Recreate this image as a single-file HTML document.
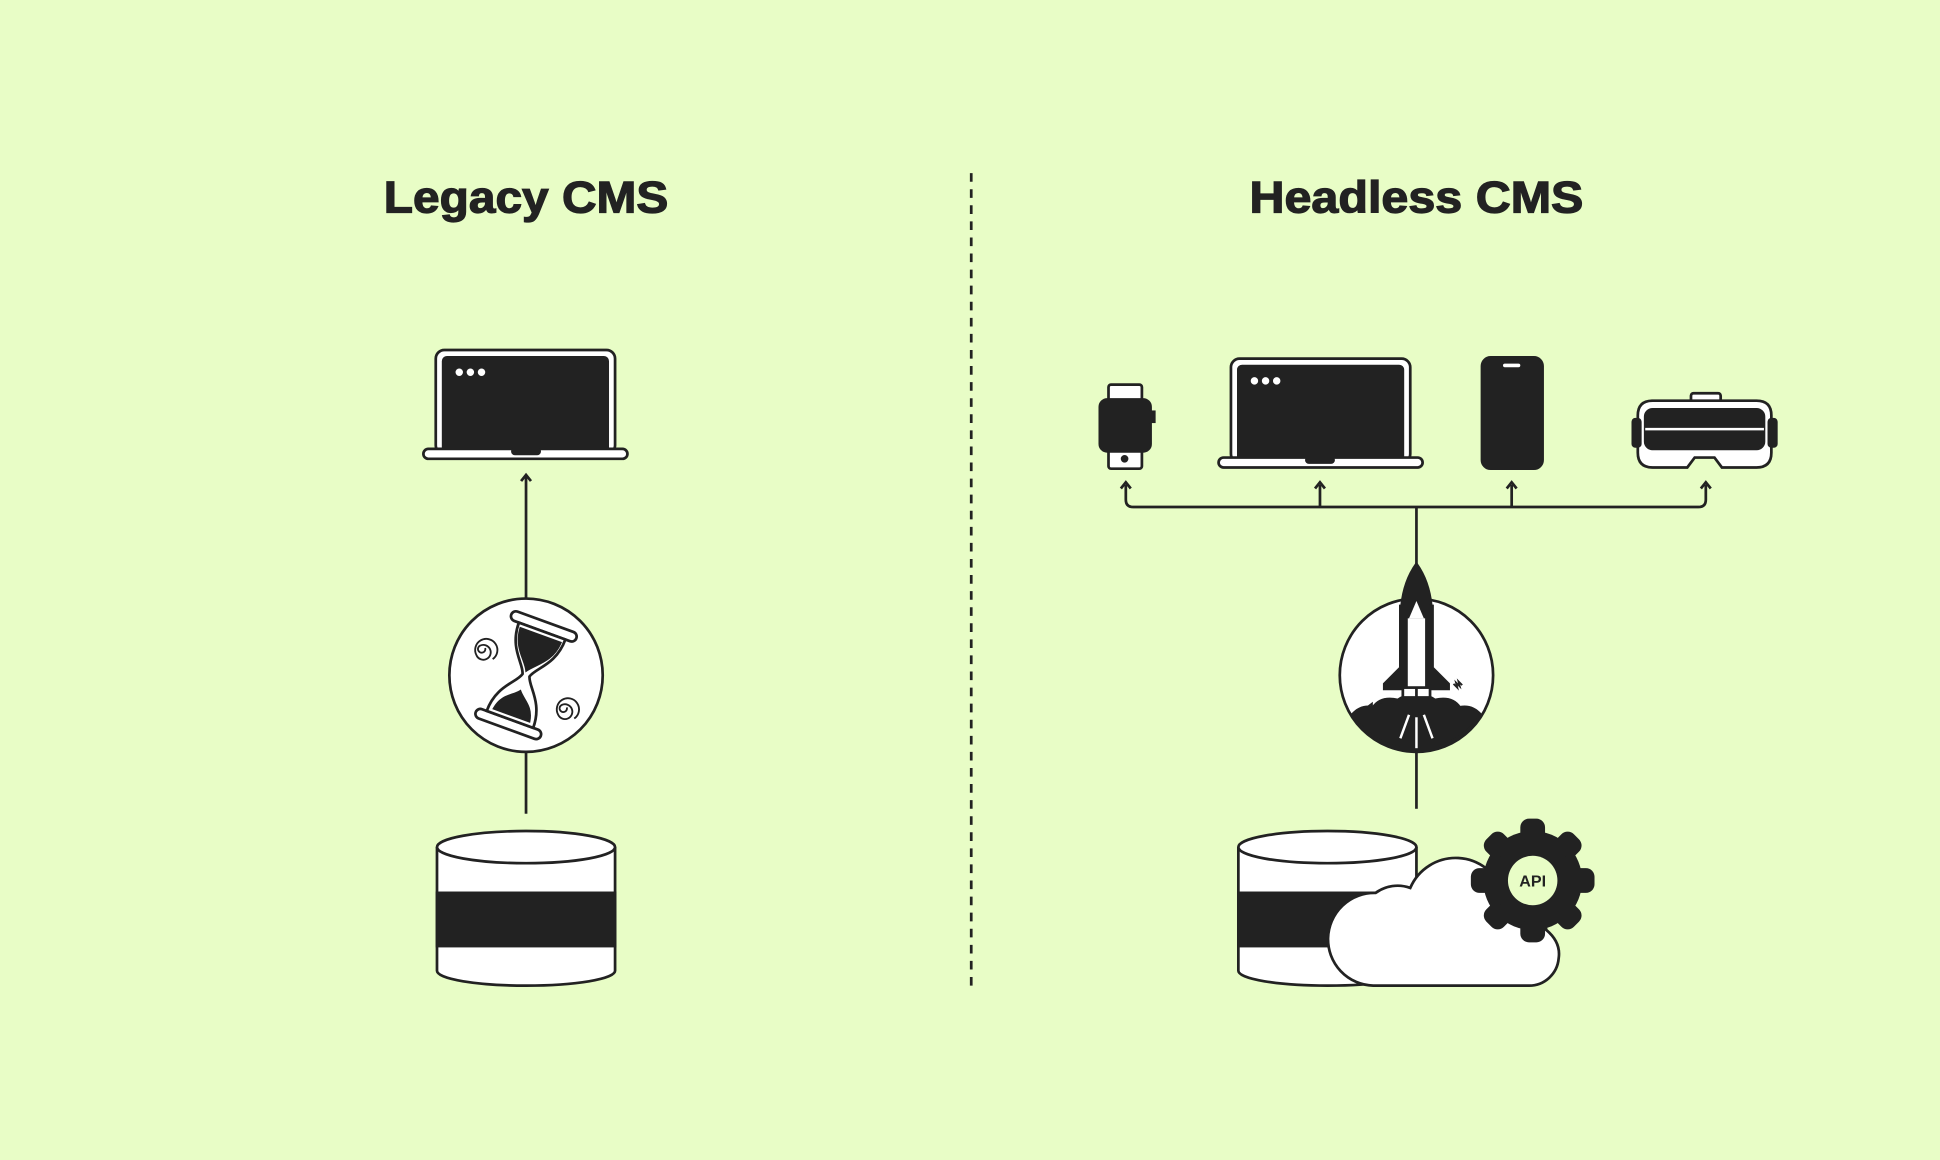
<!DOCTYPE html>
<html><head><meta charset="utf-8"><style>
html,body{margin:0;padding:0;background:#e8fdc6;}
svg{display:block}
text{font-family:"Liberation Sans",sans-serif;font-weight:bold;fill:#222}
</style></head><body>
<svg width="1940" height="1160" viewBox="0 0 1568 938" xmlns="http://www.w3.org/2000/svg">
<rect width="1568" height="938" fill="#e8fdc6"/>
<g stroke="#222" stroke-width="2.2" fill="none">
<text x="310" y="172" font-size="36" textLength="230" lengthAdjust="spacingAndGlyphs" stroke="#222" stroke-width="1">Legacy CMS</text>
<text x="1010" y="172" font-size="36" textLength="270" lengthAdjust="spacingAndGlyphs" stroke="#222" stroke-width="1">Headless CMS</text>
<line x1="785" y1="140" x2="785" y2="798" stroke-dasharray="7,6"/>

<!-- left laptop -->
<rect x="352" y="283" width="145" height="84" rx="7" fill="#fff"/>
<rect x="358" y="289" width="133" height="76" rx="3" fill="#222"/>
<rect x="342" y="363" width="165" height="8" rx="4" fill="#fff"/>
<rect x="414" y="363" width="22" height="4" rx="2" fill="#222"/>
<g fill="#fff" stroke="none"><circle cx="371" cy="301" r="3"/><circle cx="380" cy="301" r="3"/><circle cx="389" cy="301" r="3"/></g>
<line x1="425" y1="385" x2="425" y2="484"/>
<path d="M421 389 L425 384 L429 389"/>
<!-- hourglass circle -->
<circle cx="425" cy="546" r="62" fill="#fff"/>
<line x1="425" y1="608" x2="425" y2="658"/>
<g transform="rotate(20 425 546)">
<rect x="397" y="500" width="56" height="8" rx="4" fill="#fff"/>
<rect x="397" y="584" width="56" height="8" rx="4" fill="#fff"/>
<path d="M405 508 C405 530 420 538 422 546 C420 554 405 562 405 584 L445 584 C445 562 430 554 428 546 C430 538 445 530 445 508 Z" fill="#fff"/>
<path d="M408 512 C409 528 420 534 424 542 C430 534 441 528 442 512 Z" fill="#222"/>
<path d="M410 580 C412 568 420 566 425 560 C430 566 438 568 440 580 Z" fill="#222"/>
</g>
<path d="M392 524 a3 3 0 1 1 -4 -2 a6 6 0 1 1 -3 8 a9 9 0 1 1 13 3" stroke-width="1.5"/>
<path d="M458 572 a3 3 0 1 1 -4 -2 a6 6 0 1 1 -3 8 a9 9 0 1 1 13 3" stroke-width="1.5"/>

<!-- left db -->
<path d="M353 685 L353 785 A72 12 0 0 0 497 785 L497 685" fill="#fff"/>
<rect x="353" y="722" width="144" height="43" fill="#222"/>
<ellipse cx="425" cy="685" rx="72" ry="13" fill="#fff"/>

<!-- right devices -->
<rect x="896" y="311" width="27" height="14" rx="2" fill="#fff"/>
<rect x="896" y="362" width="27" height="17" rx="2" fill="#fff"/>
<rect x="889" y="323" width="41" height="42" rx="6" fill="#222"/>
<rect x="929" y="333" width="4" height="8" fill="#222"/>
<circle cx="909" cy="371" r="2" fill="#222"/>

<rect x="995" y="290" width="145" height="84" rx="7" fill="#fff"/>
<rect x="1001" y="296" width="133" height="76" rx="3" fill="#222"/>
<rect x="985" y="370" width="165" height="8" rx="4" fill="#fff"/>
<rect x="1056" y="370" width="22" height="4" rx="2" fill="#222"/>
<g fill="#fff" stroke="none"><circle cx="1014" cy="308" r="3"/><circle cx="1023" cy="308" r="3"/><circle cx="1032" cy="308" r="3"/></g>

<rect x="1198" y="289" width="49" height="90" rx="7" fill="#222"/>
<rect x="1215" y="294" width="14" height="3" rx="1.5" fill="#fff" stroke="none"/>

<rect x="1367" y="318" width="24" height="7" rx="2" fill="#fff"/>
<path d="M1336 324 L1420 324 Q1432 324 1432 336 L1432 366 Q1432 378 1420 378 L1392 378 L1386 370 L1370 370 L1364 378 L1336 378 Q1324 378 1324 366 L1324 336 Q1324 324 1336 324 Z" fill="#fff"/>
<rect x="1330" y="331" width="96" height="32" rx="6" fill="#222"/>
<rect x="1320" y="339" width="6" height="22" rx="2" fill="#222"/>
<rect x="1430" y="339" width="6" height="22" rx="2" fill="#222"/>
<line x1="1330" y1="347" x2="1426" y2="347" stroke="#fff" stroke-width="2"/>

<!-- bus -->
<path d="M910 392 L910 404 Q910 410 916 410 L1373 410 Q1379 410 1379 404 L1379 392"/>
<line x1="1067" y1="392" x2="1067" y2="410"/>
<line x1="1222" y1="392" x2="1222" y2="410"/>
<g>
<path d="M906 395 L910 390 L914 395"/><path d="M1063 395 L1067 390 L1071 395"/>
<path d="M1218 395 L1222 390 L1226 395"/><path d="M1375 395 L1379 390 L1383 395"/>
</g>
<line x1="1145" y1="410" x2="1145" y2="460"/>

<!-- rocket circle -->
<circle cx="1145" cy="546" r="62" fill="#fff"/>
<path d="M1093 578 Q1100 570 1110 572 Q1116 563 1130 566 Q1138 560 1145 566 Q1152 560 1160 566 Q1174 563 1180 572 Q1190 570 1197 578 A62 62 0 0 1 1093 578 Z" fill="#222"/>
<g stroke="#fff" stroke-width="2"><line x1="1145" y1="580" x2="1145" y2="605"/><line x1="1139" y1="578" x2="1132" y2="597"/><line x1="1151" y1="578" x2="1158" y2="597"/></g>
<line x1="1145" y1="608" x2="1145" y2="654"/>
<path d="M1145 456 Q1135 470 1133 490 L1157 490 Q1155 470 1145 456 Z" fill="#222"/>
<path d="M1132 490 L1132 540 L1119 553 L1119 557 L1171 557 L1171 553 L1158 540 L1158 490 Z" fill="#222"/>
<rect x="1138" y="500" width="14" height="56" fill="#fff" stroke="none"/>
<path d="M1139 500 L1145 486 L1151 500 Z" fill="#fff" stroke="none"/>
<rect x="1134" y="556" width="22" height="8" fill="#fff"/>
<line x1="1145" y1="556" x2="1145" y2="564"/>
<path d="M1105 572 l4 -3 l0 3 l4 -3 l0 3 l4 -3" stroke-width="1.5"/>
<path d="M1175 553 l3 3 l-1 -4 l3 3 l-1 -4 l3 3" stroke-width="1.5"/>

<!-- right db -->
<path d="M1001 685 L1001 785 A72 12 0 0 0 1145 785 L1145 685" fill="#fff"/>
<rect x="1001" y="722" width="144" height="43" fill="#222"/>
<ellipse cx="1073" cy="685" rx="72" ry="13" fill="#fff"/>

<!-- cloud -->
<path d="M1110 797 A37 37 0 0 1 1112 722 A30 30 0 0 1 1140 718 A40 40 0 0 1 1215 722 A35 35 0 0 1 1250 752 Q1262 762 1260 775 A24 24 0 0 1 1236 797 Z" fill="#fff"/>

<!-- gear -->
<g fill="#222" stroke="none">
<circle cx="1239" cy="712" r="40"/>
<g id="t"><rect x="1229" y="662" width="20" height="18" rx="7"/><rect x="1229" y="744" width="20" height="18" rx="7"/></g>
<use href="#t" transform="rotate(45 1239 712)"/>
<use href="#t" transform="rotate(90 1239 712)"/>
<use href="#t" transform="rotate(135 1239 712)"/>
</g>
<circle cx="1239" cy="712" r="20" fill="#e8fdc6" stroke="none"/>
<text x="1239" y="717" font-size="13" text-anchor="middle" stroke="none">API</text>
</g>
</svg>
</body></html>
